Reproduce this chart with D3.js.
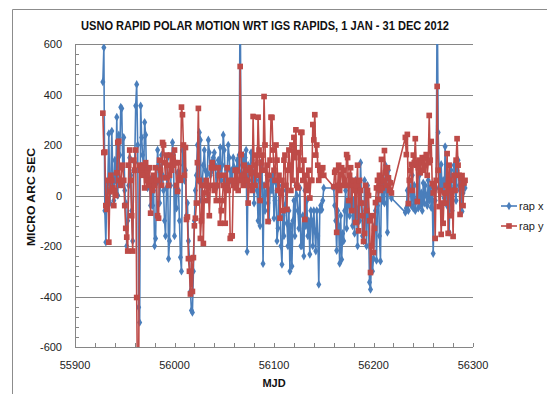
<!DOCTYPE html>
<html><head><meta charset="utf-8">
<script src="https://cdn.jsdelivr.net/npm/d3@7"></script>
<style>
html,body{margin:0;padding:0;background:#fff;}
svg{display:block;font-family:"Liberation Sans",Arial,sans-serif;}
</style></head>
<body><svg id="c" width="547" height="394"></svg>
<script>
const title = "USNO RAPID POLAR MOTION WRT IGS RAPIDS, 1 JAN - 31 DEC 2012";
const yTitle = "MICRO ARC SEC";
const xTitle = "MJD";
const seriesNames = ["rap x", "rap y"];
const xTicks = [55900, 56000, 56100, 56200, 56300];
const yTicks = [-600, -400, -200, 0, 200, 400, 600];
// consecutive daily MJD ranges (gaps between them)
const dayRanges = [[55928, 56150], [56160, 56218], [56232, 56292]];
const rapX = [
 450,586,-60,-185,30,50,245,-30,40,255,
 80,-20,140,60,310,0,240,160,350,345,
 110,230,20,-30,-200,-100,40,150,80,-60,
 -180,100,130,355,440,200,-443,-503,355,230,
 160,90,290,240,60,30,100,50,-40,70,
 -40,20,-200,-170,50,180,120,-30,60,160,
 80,20,-100,-160,30,150,-250,-180,40,110,
 210,160,-160,30,-50,90,20,-100,-245,-300,
 180,120,60,100,-80,-30,-180,-250,-380,-455,
 -463,-300,-100,20,80,200,60,250,220,-20,
 60,120,180,100,40,90,220,170,80,130,
 100,150,170,120,30,80,140,100,190,60,
 120,240,180,70,40,100,200,150,60,100,
 60,150,110,40,90,140,100,160,820,90,
 120,160,60,150,180,-222,120,60,100,170,
 140,90,-30,60,120,20,-100,60,-120,130,
 100,-270,40,-60,10,80,-30,-100,20,60,
 20,80,-90,-20,50,-180,-130,40,10,-200,
 -273,-80,-160,-40,20,-110,-200,-60,-300,-120,
 -280,-100,-20,-160,40,0,-60,-130,30,-200,
 -200,-80,-240,20,-120,-20,-160,-100,-233,-60,
 -100,-200,-60,-140,-220,-60,-160,-352,-60,-40,
 -56,-20,30,
 30,-40,-100,-218,-60,-120,-269,-80,-253,-150,
 -180,-60,20,-130,-40,40,-80,-30,60,-120,
 -20,-150,60,-50,-200,20,-100,130,-30,-160,
 -180,60,-60,-200,40,-100,-344,-372,-250,-300,
 -250,-120,-60,-257,-40,20,-160,-260,40,-20,
 60,-30,120,20,-146,100,60,20,-10,
 -67,-50,20,-60,56,30,-40,80,-50,40,
 -60,-20,40,-50,80,-40,10,-60,50,-30,
 40,0,-40,60,-20,30,-48,10,-230,-20,
 -20,30,820,250,100,40,123,20,60,-10,
 194,60,-40,80,-146,40,100,-60,20,120,
 30,-20,100,140,40,20,60,-63,10,40,30
];
const rapY = [
 326,170,172,-40,-55,60,-185,15,80,60,
 30,-40,20,0,90,210,215,60,40,110,
 120,60,-40,-130,-165,-220,120,180,60,-80,
 -220,140,100,180,-404,-820,-700,120,100,110,
 80,120,30,130,60,100,40,110,-70,60,
 20,80,40,110,60,-80,-90,140,100,40,
 210,200,130,70,160,120,40,80,160,100,
 150,120,180,130,40,16,130,70,60,350,
 320,200,80,190,-95,-85,-250,-300,-390,-250,
 -380,-246,-120,-90,-30,130,345,60,-170,-100,
 40,-190,10,40,60,-20,30,-80,40,110,
 130,110,20,40,-20,40,110,80,-110,-60,
 -20,40,80,-110,30,110,20,60,-170,-160,
 -160,40,60,100,30,100,20,60,511,162,
 80,40,120,60,100,60,-30,40,110,90,
 20,313,120,40,160,80,310,180,-20,130,
 160,100,392,200,40,120,-103,80,140,310,
 309,180,100,60,200,140,20,80,-90,10,
 60,-60,140,160,40,-55,100,180,120,20,
 200,60,230,150,260,40,30,170,100,250,
 250,60,140,-95,80,20,40,100,-10,60,
 60,281,220,320,160,200,120,60,100,80,
 103,110,80,
 35,92,100,-146,40,120,20,83,110,40,
 100,60,40,162,150,-20,80,110,-60,40,
 60,20,-107,40,120,-140,60,20,-30,-80,
 -182,-150,40,-60,20,0,-100,-305,-200,-80,
 -226,-130,-28,30,60,-16,80,20,143,30,
 60,178,90,40,110,70,20,50,10,
 230,162,242,-32,60,100,123,20,160,130,
 225,120,-24,110,140,90,130,150,100,120,
 150,162,80,130,317,140,214,47,10,40,
 -170,60,432,100,-44,20,-154,-30,-110,10,
 -30,40,166,-150,120,60,-80,20,-162,80,
 20,140,225,120,80,-75,70,79,-40,50,60
];

const mjd = [];
dayRanges.forEach(([a,b]) => { for (let d=a; d<=b; d++) mjd.push(d); });

const svg = d3.select("#c");
const P = {l:75, r:473, t:44, b:347};
const x = d3.scaleLinear().domain([55900,56300]).range([P.l,P.r]);
const y = d3.scaleLinear().domain([-600,600]).range([P.b,P.t]);
const grid = "#868686";
const blue = "#4A7EBB", red = "#BE4B48";

// outer chart border
svg.append("path").attr("d","M12.5,400V9.5H560").attr("fill","none").attr("stroke","#8c8c8c").attr("stroke-width",1);

// gridlines
svg.append("g").selectAll("line").data(yTicks).join("line")
  .attr("x1",P.l).attr("x2",P.r)
  .attr("y1",d=>Math.round(y(d))+0.5).attr("y2",d=>Math.round(y(d))+0.5)
  .attr("stroke",grid).attr("stroke-width",1);

// axes with inside minor ticks
const yMinor = d3.range(-600,601,40);
const xMinor = d3.range(55900,56301,20);
svg.append("line").attr("x1",P.l+0.5).attr("x2",P.l+0.5).attr("y1",P.t).attr("y2",P.b).attr("stroke",grid);
svg.append("g").selectAll("line").data(yMinor).join("line")
  .attr("x1",P.l).attr("x2",P.l+4)
  .attr("y1",d=>Math.round(y(d))+0.5).attr("y2",d=>Math.round(y(d))+0.5).attr("stroke",grid);
svg.append("g").selectAll("line").data(xMinor).join("line")
  .attr("x1",d=>Math.round(x(d))+0.5).attr("x2",d=>Math.round(x(d))+0.5)
  .attr("y1",P.b-4).attr("y2",P.b).attr("stroke",grid);

// tick labels
svg.append("g").selectAll("text").data(yTicks).join("text")
  .attr("x",62).attr("y",d=>y(d)+4).attr("text-anchor","end")
  .attr("font-size",11).attr("fill","#222").text(d=>d);
svg.append("g").selectAll("text").data(xTicks).join("text")
  .attr("x",d=>x(d)).attr("y",369).attr("text-anchor","middle")
  .attr("font-size",11).attr("fill","#222").text(d=>d);

// titles
svg.append("text").attr("x",265).attr("y",30).attr("text-anchor","middle")
  .attr("font-size",12).attr("font-weight","bold").attr("fill","#111")
  .attr("textLength",368).attr("lengthAdjust","spacingAndGlyphs").text(title);
svg.append("text").attr("transform","translate(35,197) rotate(-90)").attr("text-anchor","middle")
  .attr("font-size",11).attr("font-weight","bold").attr("fill","#111")
  .attr("textLength",98).attr("lengthAdjust","spacingAndGlyphs").text(yTitle);
svg.append("text").attr("x",274).attr("y",387).attr("text-anchor","middle")
  .attr("font-size",11).attr("font-weight","bold").attr("fill","#111").text(xTitle);

// clip
svg.append("clipPath").attr("id","clip").append("rect")
  .attr("x",P.l).attr("y",P.t).attr("width",P.r-P.l+20).attr("height",P.b-P.t);

const plot = svg.append("g").attr("clip-path","url(#clip)");
const line = d3.line().x(d=>x(d[0])).y(d=>y(d[1]));
const ser = [
  {vals:rapX, color:blue, sym:d3.symbolDiamond, size:22},
  {vals:rapY, color:red, sym:d3.symbolSquare, size:32}
];
ser.forEach(s => {
  const pts = mjd.map((m,i)=>[m, s.vals[i]]);
  plot.append("path").datum(pts).attr("d",line).attr("fill","none")
    .attr("stroke",s.color).attr("stroke-width",1.6).attr("stroke-linejoin","round");
  plot.append("g").selectAll("path").data(pts).join("path")
    .attr("transform",d=>`translate(${x(d[0])},${y(d[1])})`)
    .attr("d",d3.symbol().type(s.sym).size(s.size)).attr("fill",s.color);
});

// legend
const lg = svg.append("g");
ser.forEach((s,i)=>{
  const yy = 206 + i*20;
  lg.append("line").attr("x1",501).attr("x2",517).attr("y1",yy).attr("y2",yy).attr("stroke",s.color).attr("stroke-width",1.6);
  lg.append("path").attr("transform",`translate(509,${yy})`).attr("d",d3.symbol().type(s.sym).size(s.size)).attr("fill",s.color);
  lg.append("text").attr("x",519).attr("y",yy+4).attr("font-size",11).attr("fill","#222").text(seriesNames[i]);
});
</script></body></html>
